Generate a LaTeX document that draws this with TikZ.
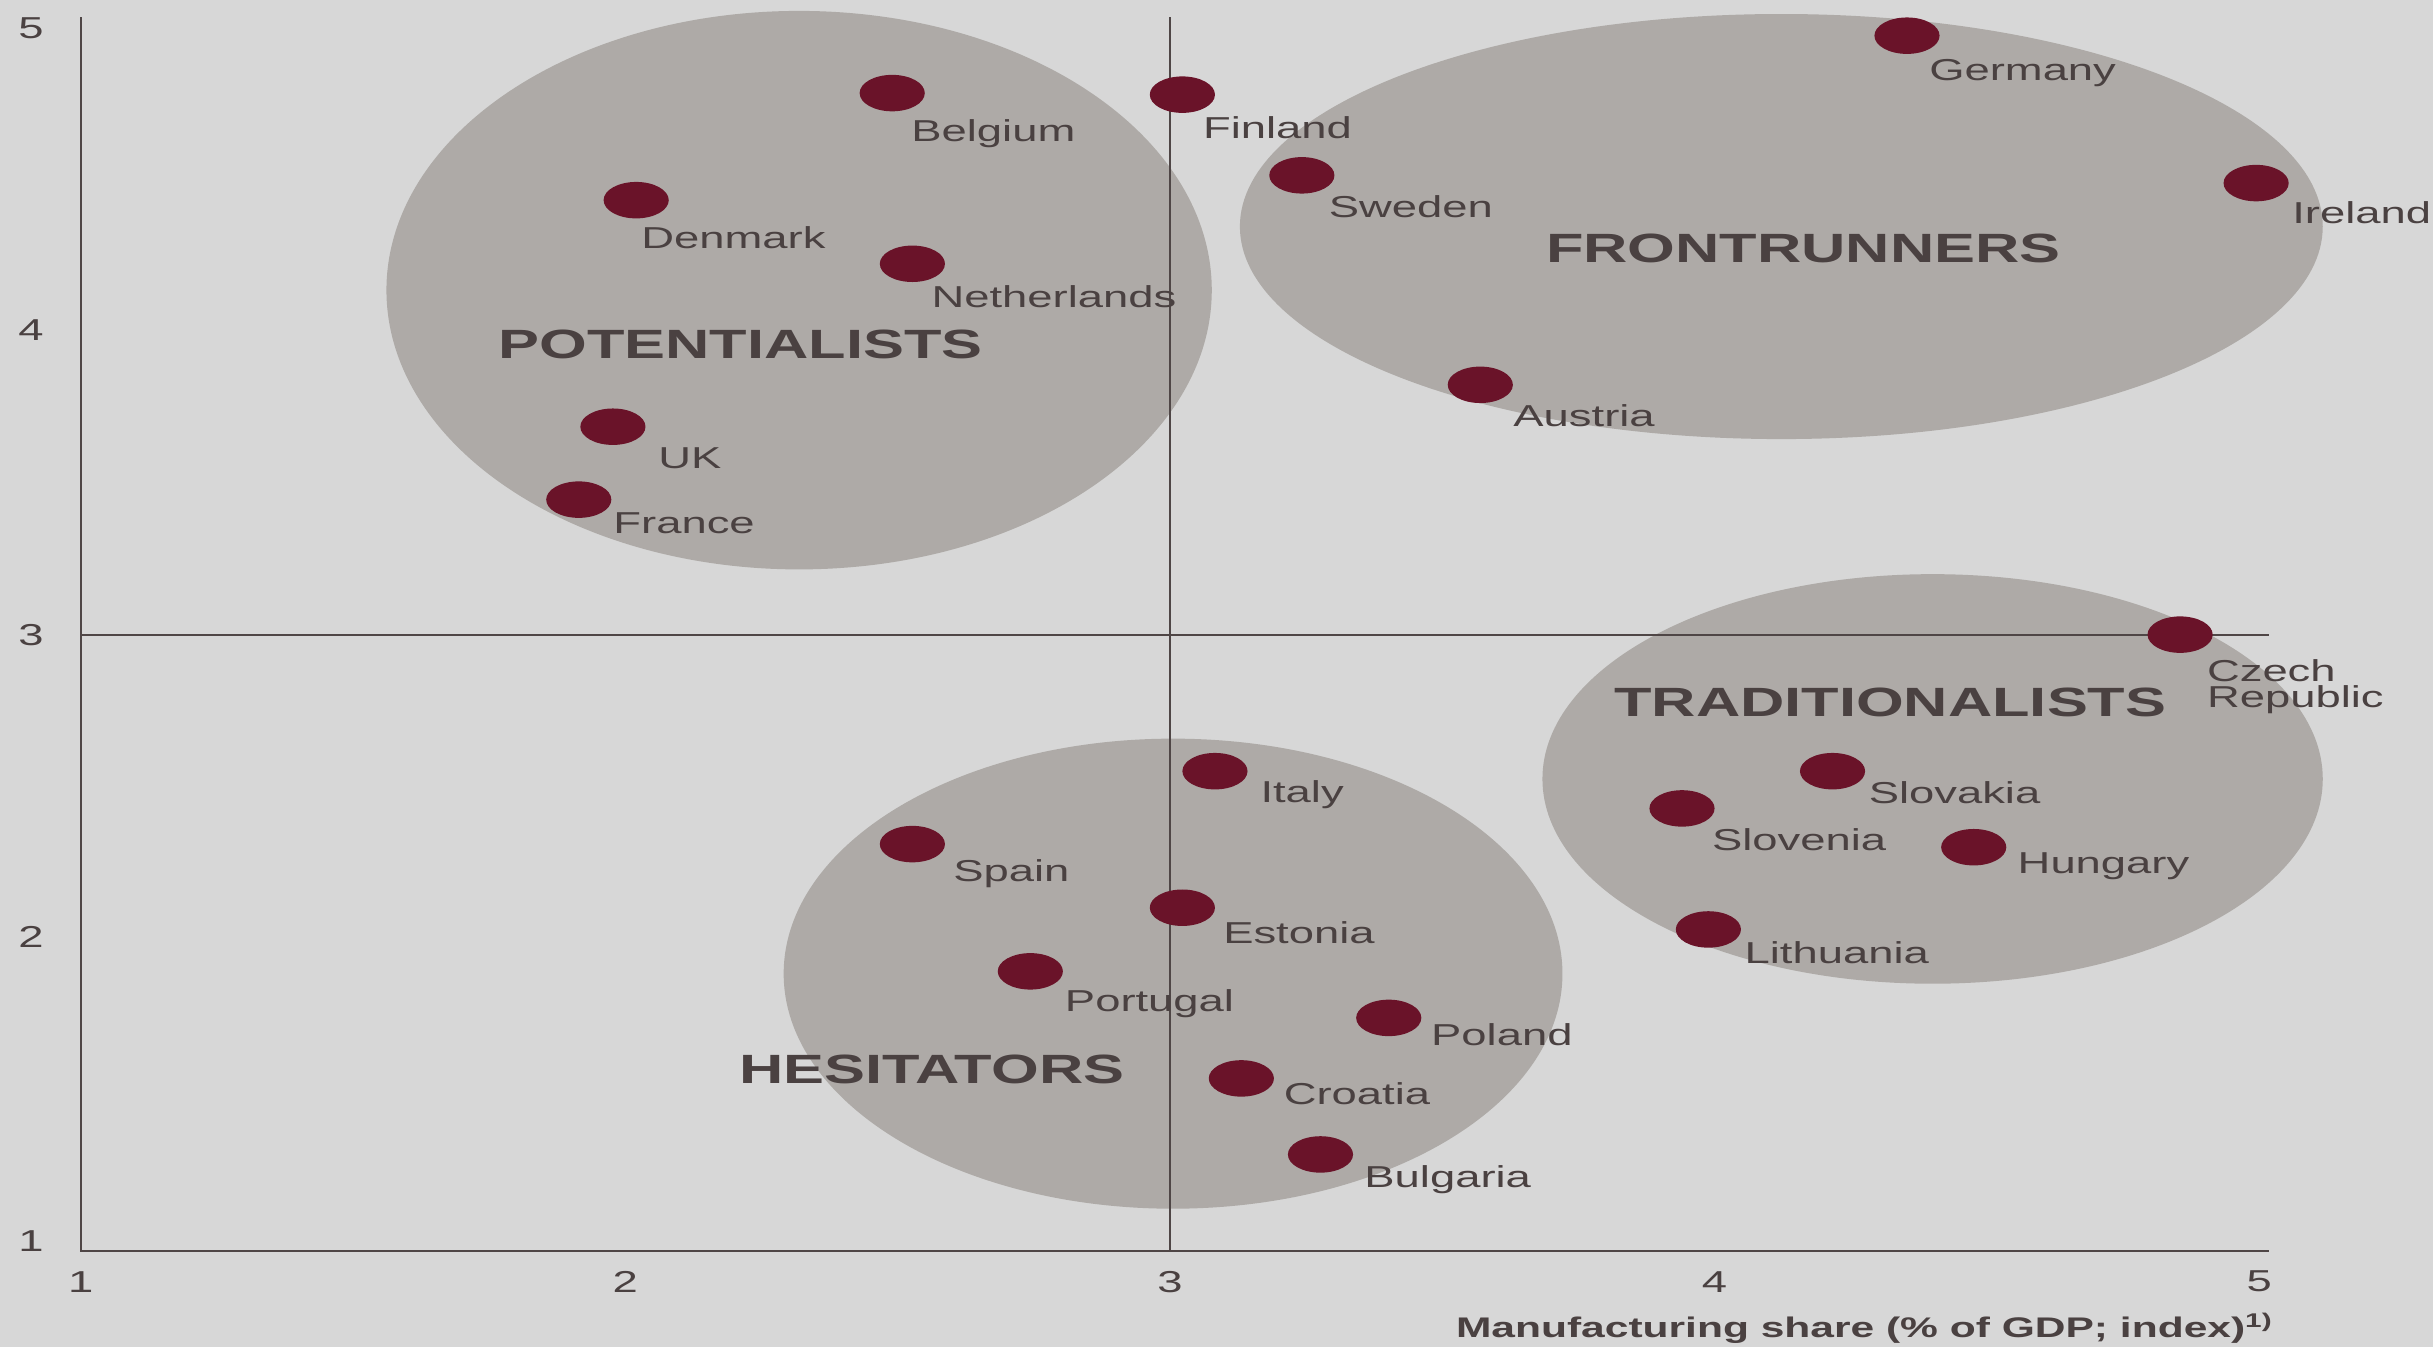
\documentclass[tikz,border=0pt]{standalone}
\usepackage{fontspec}
\setmainfont{Liberation Sans}[FakeStretch=1.5]
\usetikzlibrary{shapes.geometric}
\definecolor{bgc}{HTML}{D7D7D7}
\definecolor{grpc}{HTML}{AEAAA7}
\definecolor{dotc}{HTML}{6A1329}
\definecolor{linec}{HTML}{4F4646}
\definecolor{textc}{HTML}{4A4141}
\newcommand{\ctry}[6]{%
  \node[dotmark] (#1) at (#2,#3) {};
  \node[ctrylab] (#1-l) at (#5,#6) {#4};}
\begin{document}
\begin{tikzpicture}[x=0.02cm,y=-0.02cm,
  grp/.style={ellipse,fill=grpc,draw=none,inner sep=0pt},
  dotmark/.style={ellipse,fill=dotc,draw=none,inner sep=0pt,minimum width=0.84cm,minimum height=0.47cm},
  ctrylab/.style={anchor=base west,inner sep=0pt,text=textc,font=\fontsize{11.1}{11}\selectfont},
  grplab/.style={anchor=base west,inner sep=0pt,text=textc,font=\bfseries\fontsize{15}{18}\selectfont},
  ticklab/.style={anchor=center,inner sep=0pt,text=textc,font=\fontsize{11.1}{13}\selectfont},
  axis/.style={draw=linec,line width=0.8pt}]
\fill[bgc] (0,0) rectangle (1568,868);
\useasboundingbox (0,0) rectangle (1568,868);
% group ellipses
\node[grp,minimum width=10.64cm,minimum height=7.2cm] (pot) at (515,187) {};
\node[grp,minimum width=13.96cm,minimum height=5.48cm] (fro) at (1148,146) {};
\node[grp,minimum width=10.06cm,minimum height=5.28cm] (tra) at (1245.5,502) {};
\node[grp,minimum width=10.04cm,minimum height=6.06cm] (hes) at (756,627.5) {};
% axes
\coordinate (o) at (52,806);
\coordinate (ytop) at (52,11);
\coordinate (xend) at (1462,806);
\coordinate (mtop) at (754,11);
\coordinate (mbot) at (754,806);
\coordinate (hl) at (52,409);
\coordinate (hr) at (1462,409);
\draw[axis] (ytop) -- (o) -- (xend);
\draw[axis] (mtop) -- (mbot);
\draw[axis] (hl) -- (hr);
% ticks
\node[ticklab] (y5) at (20,18) {5};
\node[ticklab] (y4) at (20,213) {4};
\node[ticklab] (y3) at (20,409) {3};
\node[ticklab] (y2) at (20,604) {2};
\node[ticklab] (y1) at (20,800) {1};
\node[ticklab] (x1) at (52,826) {1};
\node[ticklab] (x2) at (403,826) {2};
\node[ticklab] (x3) at (754,826) {3};
\node[ticklab] (x4) at (1105,826) {4};
\node[ticklab] (x5) at (1456,826) {5};
\node[anchor=base west,inner sep=0pt,text=textc,font=\bfseries\fontsize{10.4}{12}\selectfont] (xlab) at (938,862) {Manufacturing share (\% of GDP; index)\textsuperscript{1)}};
% group labels
\node[grplab] (potl) at (321,231) {POTENTIALISTS};
\node[grplab] (frol) at (996,169) {FRONTRUNNERS};
\node[grplab] (tral) at (1040,462) {TRADITIONALISTS};
\node[grplab] (hesl) at (476,698) {HESITATORS};
% countries
\ctry{be}{575}{60}{Belgium}{587}{91}
\ctry{fi}{762}{61}{Finland}{775}{89}
\ctry{dk}{410}{129}{Denmark}{413}{160}
\ctry{se}{839}{113}{Sweden}{856}{140}
\ctry{nl}{588}{170}{Netherlands}{600}{198}
\ctry{de}{1229}{23}{Germany}{1243}{52}
\ctry{ie}{1454}{118}{Ireland}{1477}{144}
\ctry{at}{954}{248}{Austria}{975}{275}
\ctry{uk}{395}{275}{UK}{424}{302}
\ctry{fr}{373}{322}{France}{395}{344}
\node[dotmark] (cz) at (1405,409) {};
\node[ctrylab,align=left,font=\fontsize{11.1}{9.6}\selectfont] (cz-l) at (1422,456) {Czech\\Republic};
\ctry{sk}{1181}{497}{Slovakia}{1204}{518}
\ctry{si}{1084}{521}{Slovenia}{1103}{548}
\ctry{hu}{1272}{546}{Hungary}{1300}{563}
\ctry{lt}{1101}{599}{Lithuania}{1124}{621}
\ctry{it}{783}{497}{Italy}{812}{517}
\ctry{es}{588}{544}{Spain}{614}{568}
\ctry{ee}{762}{585}{Estonia}{788}{608}
\ctry{pt}{664}{626}{Portugal}{686}{652}
\ctry{pl}{895}{656}{Poland}{922}{674}
\ctry{hr}{800}{695}{Croatia}{827}{712}
\ctry{bg}{851}{744}{Bulgaria}{879}{765}
\end{tikzpicture}
\end{document}
